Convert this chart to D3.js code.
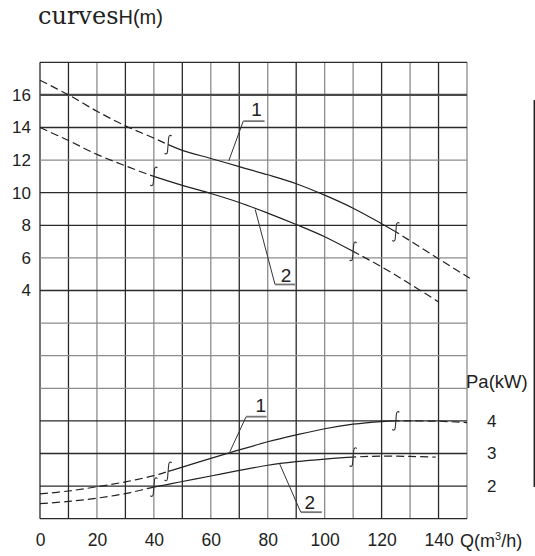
<!DOCTYPE html>
<html><head><meta charset="utf-8">
<script src="https://cdn.jsdelivr.net/npm/d3@7"></script>
<style>body{margin:0;background:#fff}svg{display:block}</style>
</head><body>
<svg id="c" width="535" height="556"></svg>
<script>
// ---- data ----
const Q_TICKS = [0, 20, 40, 60, 80, 100, 120, 140];
const H_TICKS = [16, 14, 12, 10, 8, 6, 4];
const PA_TICKS = [4, 3, 2];

// head curve 1
const qH1 = [0, 10, 20, 30, 40, 45, 50, 60, 70, 80, 90, 100, 110, 120, 125, 130, 140, 151];
const H1  = [16.9, 16.0, 15.0, 14.1, 13.35, 12.95, 12.6, 12.1, 11.6, 11.1, 10.55, 9.85, 9.05, 8.1, 7.6, 7.05, 5.95, 4.75];
// head curve 2
const qH2 = [0, 10, 20, 30, 40, 50, 60, 70, 80, 90, 100, 110, 120, 130, 140];
const H2  = [14.0, 13.2, 12.35, 11.65, 11.0, 10.45, 9.95, 9.4, 8.75, 8.05, 7.3, 6.4, 5.45, 4.4, 3.3];
// power curve 1
const qP1 = [0, 10, 20, 30, 40, 45, 50, 60, 70, 80, 90, 100, 110, 120, 125, 130, 140, 150];
const P1  = [1.76, 1.85, 1.98, 2.13, 2.32, 2.45, 2.58, 2.85, 3.11, 3.36, 3.57, 3.76, 3.9, 3.98, 4.0, 4.0, 3.99, 3.95];
// power curve 2
const qP2 = [0, 10, 20, 30, 40, 50, 60, 70, 80, 90, 100, 110, 120, 130, 139];
const P2  = [1.46, 1.53, 1.63, 1.77, 1.97, 2.14, 2.31, 2.48, 2.64, 2.75, 2.83, 2.89, 2.92, 2.91, 2.89];

// recommended operating range (solid part) per curve
const rangeH1 = [45, 125], rangeH2 = [40, 110], rangeP1 = [45, 125], rangeP2 = [40, 110];

// leader annotations [Q, value] points, label position
const leadH1 = [[66.3, 11.95], [71.4, 14.39], [78.9, 14.39]], labH1 = [76.1, 14.71, "1"];
const leadH2 = [[75.6, 8.97], [82.55, 4.37], [89.6, 4.37]], labH2 = [86.4, 4.53, "2"];
const leadP1 = [[66.7, 3.055], [72.4, 4.13], [79.6, 4.13]], labP1 = [77.6, 4.26, "1"];
const leadP2 = [[84.1, 2.70], [91.6, 1.20], [99.0, 1.20]], labP2 = [94.8, 1.29, "2"];

// ---- scales ----
const svg = d3.select('#c');
const x = d3.scaleLinear().domain([0, 150]).range([40, 467]);
const yH = d3.scaleLinear().domain([-10, 18]).range([518.7, 62.3]);
const yP = d3.scaleLinear().domain([1, 15]).range([518.7, 62.3]);
const FONT = "'Liberation Sans', Arial, sans-serif";

// ---- grid ----
const darkV = new Set([0, 10, 30, 50, 70, 90, 120, 140]);
const g = svg.append('g');
g.selectAll('line.v').data(d3.range(0, 151, 10)).join('line')
  .attr('x1', d => x(d)).attr('x2', d => x(d))
  .attr('y1', yH(18)).attr('y2', yH(-10))
  .attr('stroke', d => darkV.has(d) ? '#2a2a2a' : '#8c8c8c')
  .attr('stroke-width', 1.3);
const darkH = new Set([18, 14, 10, 8, 4, -4, -6, -8, -10]);
g.selectAll('line.h').data(d3.range(-10, 19, 2)).join('line')
  .attr('x1', x(0)).attr('x2', x(150))
  .attr('y1', d => yH(d)).attr('y2', d => yH(d))
  .attr('stroke', d => d === 16 ? '#4a4a4a' : (darkH.has(d) ? '#2a2a2a' : '#8c8c8c'))
  .attr('stroke-width', d => d === 16 ? 2.2 : 1.3);

// ---- curves ----
const defs = svg.append('defs');
function drawCurve(id, qs, vs, ys, range) {
  const line = d3.line().x((d, i) => x(qs[i])).y(d => ys(d)).curve(d3.curveCatmullRom.alpha(0.5));
  const cs = defs.append('clipPath').attr('id', 's' + id);
  cs.append('rect').attr('x', x(range[0])).attr('y', 0).attr('width', x(range[1]) - x(range[0])).attr('height', 556);
  const cd = defs.append('clipPath').attr('id', 'd' + id);
  cd.append('rect').attr('x', 0).attr('y', 0).attr('width', x(range[0])).attr('height', 556);
  cd.append('rect').attr('x', x(range[1])).attr('y', 0).attr('width', 535 - x(range[1])).attr('height', 556);
  svg.append('path').datum(vs).attr('d', line).attr('fill', 'none')
    .attr('stroke', '#222').attr('stroke-width', 1.2).attr('clip-path', `url(#s${id})`);
  svg.append('path').datum(vs).attr('d', line).attr('fill', 'none')
    .attr('stroke', '#222').attr('stroke-width', 1.2).attr('stroke-dasharray', '8,4')
    .attr('clip-path', `url(#d${id})`);
  range.forEach(q => {
    const v = vs[qs.indexOf(q)];
    svg.append('path')
      .attr('transform', `translate(${x(q)},${ys(v)})`)
      .attr('d', 'M3.5,-8.5 C2.5,-9.8 0.8,-9.5 0.6,-7 L-0.6,7 C-0.8,9.5 -2.5,9.8 -3.5,8.5')
      .attr('fill', 'none').attr('stroke', '#333').attr('stroke-width', 1.1);
  });
}
drawCurve('h1', qH1, H1, yH, rangeH1);
drawCurve('h2', qH2, H2, yH, rangeH2);
drawCurve('p1', qP1, P1, yP, rangeP1);
drawCurve('p2', qP2, P2, yP, rangeP2);

// ---- leaders ----
function leader(pts, lab, ys) {
  svg.append('line').attr('x1', x(pts[0][0])).attr('y1', ys(pts[0][1]))
    .attr('x2', x(pts[1][0])).attr('y2', ys(pts[1][1]))
    .attr('stroke', '#333').attr('stroke-width', 1);
  svg.append('line').attr('x1', x(pts[1][0])).attr('y1', ys(pts[1][1]))
    .attr('x2', x(pts[2][0])).attr('y2', ys(pts[2][1]))
    .attr('stroke', '#777').attr('stroke-width', 1.8);
  svg.append('text').attr('x', x(lab[0])).attr('y', ys(lab[1]))
    .attr('text-anchor', 'middle').attr('font-family', FONT).attr('font-size', 19)
    .attr('fill', '#222').text(lab[2]);
}
leader(leadH1, labH1, yH);
leader(leadH2, labH2, yH);
leader(leadP1, labP1, yP);
leader(leadP2, labP2, yP);

// ---- axes ----
function styleAxis(sel, size) {
  sel.select('.domain').remove();
  sel.selectAll('text').attr('font-family', FONT).attr('font-size', size).attr('fill', '#222');
}
svg.append('g').attr('transform', 'translate(40,0)')
  .call(d3.axisLeft(yH).tickValues(H_TICKS).tickSize(0).tickPadding(9))
  .call(s => styleAxis(s, 17));
svg.append('g').attr('transform', `translate(0,${yH(-10)})`)
  .call(d3.axisBottom(x).tickValues(Q_TICKS).tickSize(0).tickPadding(15))
  .call(s => styleAxis(s, 17.5));
svg.append('g').attr('transform', `translate(${x(150)},0)`)
  .call(d3.axisRight(yP).tickValues(PA_TICKS).tickSize(0).tickPadding(20))
  .call(s => styleAxis(s, 17));

// axis titles
const qt = svg.append('text').attr('x', 460).attr('y', 547)
  .attr('font-family', FONT).attr('font-size', 18).attr('fill', '#222');
qt.append('tspan').text('Q(m');
qt.append('tspan').attr('font-size', 11).attr('dy', -7).text('3');
qt.append('tspan').attr('dy', 7).text('/h)');

svg.append('text').attr('x', 466).attr('y', 388)
  .attr('font-family', FONT).attr('font-size', 18.5).attr('fill', '#222').text('Pa(kW)');

// right bracket line
svg.append('line').attr('x1', 534.3).attr('x2', 534.3).attr('y1', 100).attr('y2', 487)
  .attr('stroke', '#222').attr('stroke-width', 1.5);

// title
const tt = svg.append('text').attr('x', 38).attr('y', 24).attr('fill', '#222');
tt.append('tspan').attr('font-family', "'DejaVu Serif', serif").attr('font-size', 24).text('curves');
tt.append('tspan').attr('font-family', FONT).attr('font-size', 20).text('H(m)');
</script>
</body></html>
